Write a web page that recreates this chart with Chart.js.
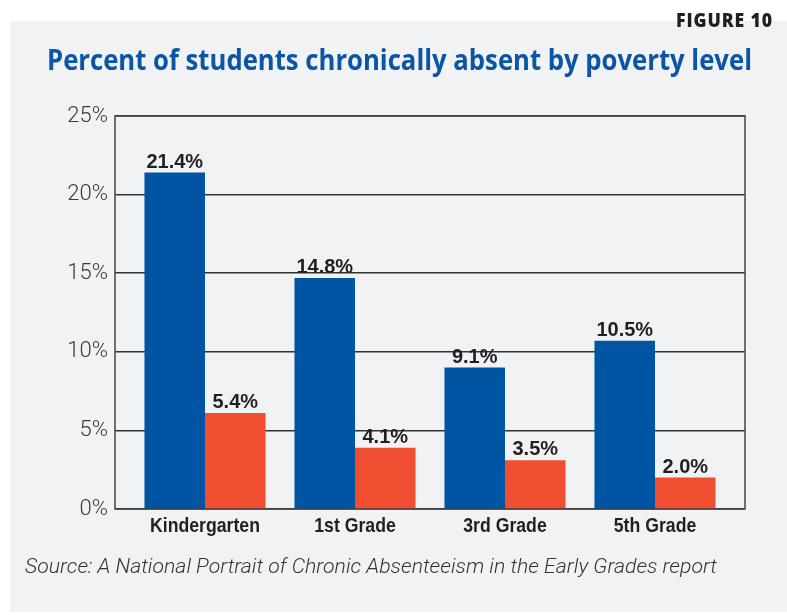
<!DOCTYPE html>
<html>
<head>
<meta charset="utf-8">
<script src="https://cdn.jsdelivr.net/npm/chart.js@4.4.1/dist/chart.umd.min.js"></script>
<style>
  html, body { margin: 0; padding: 0; background: #fff; }
  #wrap { position: relative; width: 787px; height: 615px; overflow: hidden; }
  #panel { position: absolute; left: 10px; top: 21px; right: 0; height: 591px; background: #f1f2f4; }
  canvas { position: absolute; left: 0; top: 0; }
  .txt { position: absolute; white-space: nowrap; transform-origin: 0 0; line-height: 1; }
  #fig { font-family: "Open Sans", sans-serif; font-weight: 800; font-size: 20px; color: #231f20; letter-spacing: 1px; }
  #title { font-family: "Open Sans", sans-serif; font-weight: 700; font-size: 28px; color: #0a55a5; }
  #source { font-family: Roboto, sans-serif; font-style: italic; font-weight: 300; font-size: 20px; color: #333; }
</style>
</head>
<body>
<div id="wrap">
  <div id="panel"></div>
  <canvas id="chart" width="787" height="615"></canvas>
  <div class="txt" id="fig" data-left="676" data-top="9.5" data-width="97">FIGURE 10</div>
  <div class="txt" id="title" data-left="47" data-top="45" data-width="705">Percent of students chronically absent by poverty level</div>
  <div class="txt" id="source" data-left="25" data-top="556" data-width="692">Source: A National Portrait of Chronic Absenteeism in the Early Grades report</div>
</div>
<script>
// data
const categories = ['Kindergarten', '1st Grade', '3rd Grade', '5th Grade'];
const highPoverty = [21.4, 14.7, 9.0, 10.7];
const lowPoverty = [6.1, 3.9, 3.1, 2.0];
const highPovertyLabels = ['21.4%', '14.8%', '9.1%', '10.5%'];
const lowPovertyLabels = ['5.4%', '4.1%', '3.5%', '2.0%'];
const yTicks = [0, 5, 10, 15, 20, 25];

// stretch the html texts to the widths in the picture
document.querySelectorAll('.txt').forEach(el => {
    el.style.left = el.dataset.left + 'px';
    el.style.top = el.dataset.top + 'px';
    const w = el.getBoundingClientRect().width;
    el.style.transform = 'scaleX(' + (el.dataset.width / w) + ')';
});

const boxPlugin = {
    id: 'box',
    beforeDatasetsDraw(chart) {
        const { ctx, chartArea: a } = chart;
        ctx.save();
        ctx.strokeStyle = '#444';
        ctx.lineWidth = 1.5;
        ctx.strokeRect(a.left, a.top, a.right - a.left, a.bottom - a.top);
        ctx.restore();
    }
};

const valueLabels = {
    id: 'valueLabels',
    afterDatasetsDraw(chart) {
        const ctx = chart.ctx;
        ctx.save();
        ctx.font = 'bold 20px "Liberation Sans", Arial, sans-serif';
        ctx.fillStyle = '#231f20';
        ctx.textAlign = 'center';
        ctx.textBaseline = 'alphabetic';
        chart.data.datasets.forEach((ds, i) => {
            chart.getDatasetMeta(i).data.forEach((bar, j) => {
                ctx.fillText(ds.valueLabels[j], bar.x, bar.y - 5);
            });
        });
        ctx.restore();
    }
};

// condensed category names under the x axis (no narrow font installed)
const categoryLabels = {
    id: 'categoryLabels',
    afterDraw(chart) {
        const ctx = chart.ctx;
        const x = chart.scales.x;
        ctx.save();
        ctx.font = 'bold 21px "Liberation Sans", Arial, sans-serif';
        ctx.fillStyle = '#231f20';
        ctx.textAlign = 'center';
        ctx.textBaseline = 'alphabetic';
        const k = 110 / ctx.measureText(categories[0]).width;
        categories.forEach((c, i) => {
            ctx.save();
            ctx.translate(x.getPixelForValue(i), chart.chartArea.bottom + 23);
            ctx.scale(k, 1);
            ctx.fillText(c, 0, 0);
            ctx.restore();
        });
        ctx.restore();
    }
};

new Chart(document.getElementById('chart'), {
    type: 'bar',
    data: {
        datasets: [
            {
                label: 'High poverty',
                data: highPoverty.map((v, i) => ({ x: i, y: v })),
                valueLabels: highPovertyLabels,
                backgroundColor: '#0054a4',
                categoryPercentage: 0.807,
                barPercentage: 1,
            },
            {
                label: 'Low poverty',
                data: lowPoverty.map((v, i) => ({ x: i, y: v })),
                valueLabels: lowPovertyLabels,
                backgroundColor: '#ef4e30',
                categoryPercentage: 0.807,
                barPercentage: 1,
            },
        ],
    },
    options: {
        responsive: false,
        animation: false,
        layout: { padding: { top: 116, right: 42, bottom: 0, left: 0 } },
        plugins: { legend: { display: false }, tooltip: { enabled: false } },
        scales: {
            x: {
                type: 'linear',
                min: -0.6,
                max: 3.6,
                offset: false,
                afterBuildTicks: s => { s.ticks = categories.map((c, i) => ({ value: i })); },
                afterFit: s => { s.height = 106; },
                grid: { display: false, drawTicks: false, offset: false },
                border: { display: false },
                ticks: { display: false },
            },
            y: {
                min: 0,
                max: 25,
                afterBuildTicks: s => { s.ticks = yTicks.map(v => ({ value: v })); },
                afterFit: s => { s.width = 115; },
                grid: { color: '#333', lineWidth: 1.5, drawTicks: false },
                border: { display: false },
                ticks: {
                    callback: v => v + '%',
                    padding: 7,
                    color: '#3a3a3a',
                    font: { family: 'Roboto, sans-serif', weight: '300', size: 22 },
                },
            },
        },
    },
    plugins: [boxPlugin, valueLabels, categoryLabels],
});
</script>
</body>
</html>
